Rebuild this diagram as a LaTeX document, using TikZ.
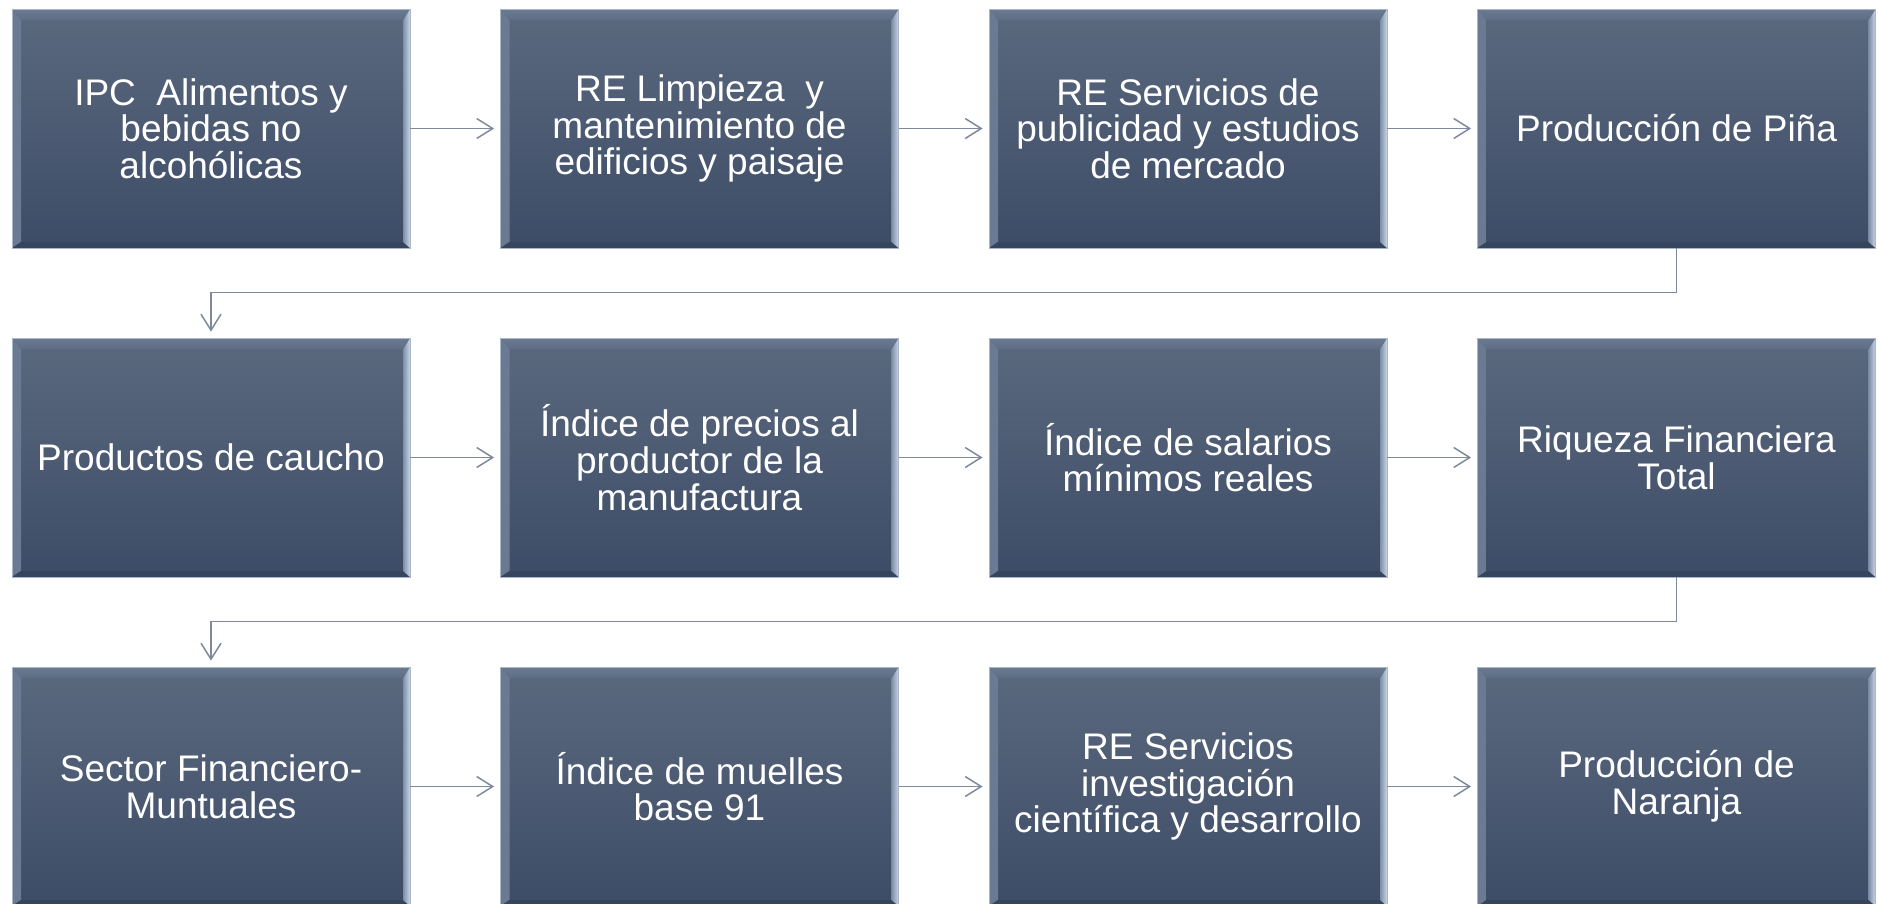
\documentclass[tikz,border=0pt]{standalone}
\usepackage{fontspec}
\setmainfont{Liberation Sans}
\usetikzlibrary{arrows.meta}
\definecolor{boxtop}{HTML}{5B697F}
\definecolor{boxbot}{HTML}{3D4C66}
\definecolor{conncol}{HTML}{7E8A9B}
\definecolor{edgecol}{HTML}{A9B7C8}
\definecolor{levl}{HTML}{6A7A92}
\definecolor{levr}{HTML}{56667E}
\definecolor{bevb}{HTML}{36445C}
\definecolor{revl}{HTML}{7D8EA6}
\definecolor{revr}{HTML}{C9D6E6}
\definecolor{tevt}{HTML}{6B7B91}
\definecolor{tevm}{HTML}{9CA9BA}
\definecolor{tevb}{HTML}{5E6D84}
\tikzset{
  flowbox/.style={
    rectangle, minimum width=398pt, minimum height=239pt, inner sep=0pt,
    text=white, align=center, draw=edgecol, line width=0.8pt,
    font=\fontsize{37pt}{36.7pt}\selectfont,
    top color=boxtop, bottom color=boxbot,
    path picture={
      % left bevel
      \shade[left color=levl, right color=levr]
        (path picture bounding box.north west) --
        ([xshift=9pt,yshift=-11pt]path picture bounding box.north west) --
        ([xshift=9pt,yshift=6pt]path picture bounding box.south west) --
        (path picture bounding box.south west) -- cycle;
      % bottom bevel
      \fill[bevb]
        (path picture bounding box.south west) --
        ([xshift=9pt,yshift=6pt]path picture bounding box.south west) --
        ([xshift=-7pt,yshift=6pt]path picture bounding box.south east) --
        (path picture bounding box.south east) -- cycle;
      % right bevel
      \shade[left color=revl, right color=revr]
        (path picture bounding box.north east) --
        ([xshift=-7pt,yshift=-11pt]path picture bounding box.north east) --
        ([xshift=-7pt,yshift=6pt]path picture bounding box.south east) --
        (path picture bounding box.south east) -- cycle;
      % top bevel
      \shade[top color=tevt, middle color=tevm, bottom color=tevb]
        (path picture bounding box.north west) --
        (path picture bounding box.north east) --
        ([xshift=-7pt,yshift=-11pt]path picture bounding box.north east) --
        ([xshift=9pt,yshift=-11pt]path picture bounding box.north west) -- cycle;
    }
  },
  conn/.style={draw=conncol, line width=1.5pt,
    -{Straight Barb[length=16pt,width=20pt]}, shorten >=6pt}
}
\begin{document}
\begin{tikzpicture}[x=1pt,y=-1pt]
\useasboundingbox (0,0) rectangle (1878,903);
% row 1
\node[flowbox] (n1) at (211,128.5)    {IPC\ \ Alimentos y\\bebidas no\\alcohólicas};
\node[flowbox] (n2) at (699.5,128.5)  {RE Limpieza\ \ y\\mantenimiento de\\edificios y paisaje};
\node[flowbox] (n3) at (1188,128.5)   {RE Servicios de\\publicidad y estudios\\de mercado};
\node[flowbox] (n4) at (1676.5,128.5) {Producción de Piña};
% row 2
\node[flowbox] (n5) at (211,457.5)    {Productos de caucho};
\node[flowbox] (n6) at (699.5,457.5)  {Índice de precios al\\productor de la\\manufactura};
\node[flowbox] (n7) at (1188,457.5)   {Índice de salarios\\mínimos reales};
\node[flowbox] (n8) at (1676.5,457.5) {Riqueza Financiera\\Total};
% row 3
\node[flowbox] (n9) at (211,786.5)     {Sector Financiero-\\Muntuales};
\node[flowbox] (n10) at (699.5,786.5)  {Índice de muelles\\base 91};
\node[flowbox] (n11) at (1188,786.5)   {RE Servicios\\investigación\\científica y desarrollo};
\node[flowbox] (n12) at (1676.5,786.5) {Producción de\\Naranja};
% connectors
\draw[conn] (n1.east) -- (n2.west);
\draw[conn] (n2.east) -- (n3.west);
\draw[conn] (n3.east) -- (n4.west);
\draw[conn] (n4.south) -- ++(0,44) -| (n5.north);
\draw[conn] (n5.east) -- (n6.west);
\draw[conn] (n6.east) -- (n7.west);
\draw[conn] (n7.east) -- (n8.west);
\draw[conn] (n8.south) -- ++(0,44) -| (n9.north);
\draw[conn] (n9.east) -- (n10.west);
\draw[conn] (n10.east) -- (n11.west);
\draw[conn] (n11.east) -- (n12.west);
\end{tikzpicture}
\end{document}
